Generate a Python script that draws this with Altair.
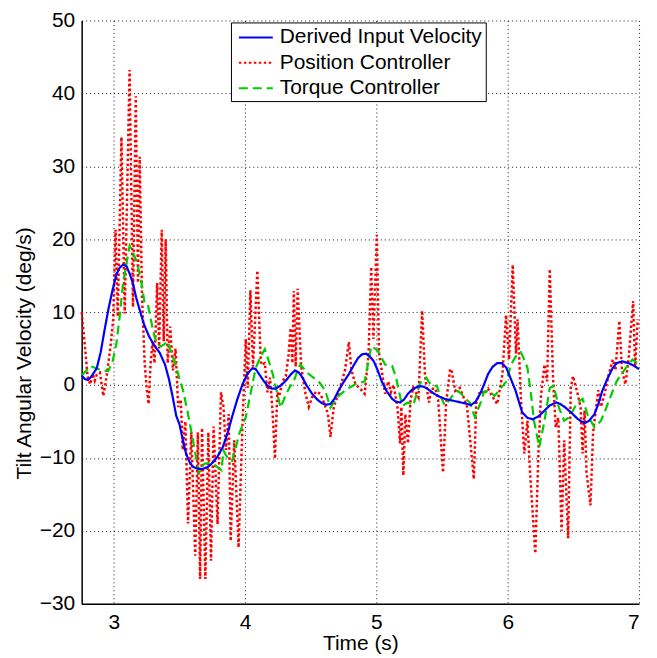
import altair as alt
import pandas as pd

# ---- data ----
blue_t = [2.755, 2.78, 2.805, 2.83, 2.87, 2.90, 2.93, 2.96, 2.99, 3.02, 3.045, 3.07, 3.096, 3.12, 3.146,
          3.17, 3.197, 3.23, 3.27, 3.31, 3.35, 3.39, 3.42, 3.45, 3.475, 3.50, 3.525, 3.55, 3.575, 3.60,
          3.64, 3.68, 3.72, 3.75, 3.79, 3.83, 3.87, 3.90, 3.94, 3.98, 4.02, 4.055, 4.08, 4.106, 4.14,
          4.17, 4.20, 4.23, 4.27, 4.31, 4.35, 4.38, 4.41, 4.43, 4.47, 4.51, 4.55, 4.585, 4.62, 4.65,
          4.68, 4.71, 4.75, 4.79, 4.83, 4.86, 4.89, 4.92, 4.95, 4.98, 5.01, 5.04, 5.08, 5.12, 5.15,
          5.18, 5.21, 5.24, 5.28, 5.32, 5.35, 5.38, 5.41, 5.44, 5.48, 5.52, 5.57, 5.62, 5.67, 5.72,
          5.755, 5.79, 5.82, 5.85, 5.885, 5.92, 5.955, 5.99, 6.02, 6.06, 6.085, 6.11, 6.15, 6.19, 6.235,
          6.28, 6.32, 6.37, 6.40, 6.44, 6.49, 6.53, 6.56, 6.59, 6.62, 6.66, 6.69, 6.72, 6.76, 6.80,
          6.83, 6.87, 6.92, 6.955, 6.985, 7.0]
blue_v = [1.3, 0.8, 0.7, 1.2, 2.3, 4.5, 7.6, 10.5, 13.0, 15.2, 16.1, 16.5, 16.3, 15.3, 13.9,
          12.0, 10.3, 8.3, 6.6, 5.4, 4.4, 2.8, 0.8, -1.8, -4.2, -5.4, -7.5, -9.4, -10.5, -11.2,
          -11.5, -11.5, -11.2, -10.7, -9.8, -8.5, -6.4, -4.4, -2.0, 0.1, 1.6, 2.3, 2.2, 1.5, 0.6,
          -0.1, -0.5, -0.5, -0.1, 0.6, 1.5, 2.0, 1.7, 1.2, -0.1, -1.2, -2.0, -2.5, -2.7, -2.6,
          -1.9, -0.8, 0.4, 1.5, 2.8, 3.7, 4.2, 4.3, 3.9, 3.25, 2.0, 0.5, -0.9, -1.9, -2.3,
          -2.4, -2.0, -1.2, -0.5, -0.2, -0.2, -0.4, -0.8, -1.2, -1.6, -1.9, -2.1, -2.3, -2.5, -2.75,
          -2.3, -1.2, 0.1, 1.5, 2.5, 3.0, 3.0, 2.35, 1.0, -0.8, -2.3, -3.75, -4.5, -4.7, -4.3,
          -3.5, -2.8, -2.4, -2.6, -3.1, -3.9, -4.6, -5.0, -5.2, -4.9, -4.0, -2.6, -0.8, 0.9, 2.35,
          3.0, 3.25, 3.0, 2.7, 2.35, 2.2]

red_t = [2.755, 2.78, 2.80, 2.82, 2.84, 2.855, 2.87, 2.894, 2.92, 2.945, 2.975, 2.995, 3.013, 3.03,
         3.058, 3.083, 3.12, 3.146, 3.167, 3.184, 3.197, 3.215, 3.235, 3.25, 3.265, 3.28, 3.295, 3.31,
         3.33, 3.345, 3.365, 3.38, 3.395, 3.41, 3.43, 3.45, 3.47, 3.49, 3.51, 3.525, 3.545, 3.565,
         3.59, 3.62, 3.64, 3.657, 3.672, 3.697, 3.72, 3.74, 3.76, 3.79, 3.816, 3.835, 3.854, 3.875,
         3.89, 3.917, 3.95, 3.98, 4.005, 4.02, 4.04, 4.06, 4.093, 4.12, 4.15, 4.17, 4.19, 4.21,
         4.227, 4.245, 4.26, 4.285, 4.31, 4.33, 4.346, 4.36, 4.371, 4.385, 4.40, 4.427, 4.46, 4.485,
         4.51, 4.54, 4.573, 4.60, 4.63, 4.65, 4.675, 4.71, 4.76, 4.79, 4.81, 4.84, 4.876, 4.91,
         4.94, 4.96, 4.977, 5.003, 5.02, 5.04, 5.066, 5.09, 5.11, 5.13, 5.16, 5.18, 5.19, 5.205,
         5.22, 5.24, 5.26, 5.28, 5.32, 5.348, 5.37, 5.40, 5.42, 5.45, 5.47, 5.507, 5.53, 5.56,
         5.57, 5.60, 5.635, 5.66, 5.69, 5.742, 5.76, 5.79, 5.82, 5.85, 5.89, 5.92, 5.96, 5.987,
         6.01, 6.038, 6.063, 6.075, 6.10, 6.126, 6.15, 6.17, 6.21, 6.235, 6.252, 6.28, 6.30, 6.32,
         6.345, 6.365, 6.385, 6.41, 6.43, 6.46, 6.48, 6.497, 6.53, 6.555, 6.57, 6.585, 6.60, 6.63,
         6.65, 6.67, 6.69, 6.71, 6.74, 6.77, 6.80, 6.82, 6.85, 6.87, 6.896, 6.92, 6.955, 6.97, 6.99]
red_v = [10.0, 5.3, 1.2, 0.1, 1.5, 0.6, 1.4, 1.7, -1.5, 1.2, 5.3, 9.0, 21.3, 9.4,
         34.0, 9.8, 43.2, 10.7, 39.6, 14.0, 31.3, 12.0, 3.0, -0.4, -2.6, 3.0, 6.0, 3.0,
         14.0, 5.0, 21.3, 6.0, 20.0, 3.0, 8.0, 2.0, 5.0, -3.0, -2.0, -8.9, -5.0, -19.0,
         -6.5, -23.4, -6.5, -26.6, -5.9, -26.6, -6.5, -24.1, -5.7, -19.1, -1.0, -3.0, -8.9, -4.0,
         -21.4, -7.6, -22.3, -5.3, 6.3, -0.4, 13.0, 2.5, 15.7, 2.8, 3.0, -1.0, 1.0, -4.0,
         -10.1, -1.0, -1.5, 0.5, 1.2, 4.0, 7.8, 3.0, 12.9, 2.5, 13.2, 2.5, -1.2, -3.0,
         -1.7, -0.9, -1.2, -2.4, -3.9, -7.1, -3.0, -1.2, 2.0, 5.9, 2.0, 0.1, -0.5, -1.2,
         4.2, 16.2, 6.3, 20.6, 4.3, 2.0, -1.2, 0.5, -1.0, 0.0, -3.0, -8.0, -3.0, -12.4,
         -4.0, -8.0, -2.0, -0.4, -1.7, 10.2, 1.2, -2.4, -0.5, -0.5, -2.0, -12.0, -2.6, 2.0,
         2.2, -0.8, -0.4, -1.5, -3.0, -12.9, -2.5, -0.8, -1.2, -0.5, -1.8, -2.6, 1.5, 9.6,
         3.5, 16.5, 4.3, 9.0, -1.7, -9.4, -4.9, -12.0, -23.1, -8.5, -1.7, 2.8, 0.5, 15.9,
         1.0, -5.8, -4.5, -20.0, -7.6, -21.0, -0.4, 1.2, -1.0, -3.1, -9.4, -3.5, -12.0, -16.5,
         -6.5, -3.5, -0.7, -3.0, -1.0, 1.5, 3.5, 2.0, 8.8, 2.0, 0.1, 3.5, 11.5, 2.5, 9.0]

green_t = [2.755, 2.79, 2.82, 2.85, 2.88, 2.92, 2.957, 2.99, 3.02, 3.045, 3.07, 3.095, 3.12, 3.15,
           3.18, 3.21, 3.235, 3.26, 3.285, 3.31, 3.335, 3.36, 3.385, 3.41, 3.44, 3.475, 3.50, 3.525,
           3.56, 3.60, 3.625, 3.65, 3.67, 3.69, 3.72, 3.75, 3.785, 3.82, 3.835, 3.86, 3.88, 3.90,
           3.93, 3.955, 3.98, 4.005, 4.04, 4.08, 4.115, 4.15, 4.18, 4.21, 4.24, 4.27, 4.29, 4.31,
           4.34, 4.37, 4.395, 4.42, 4.45, 4.485, 4.52, 4.56, 4.585, 4.61, 4.65, 4.675, 4.70, 4.73,
           4.76, 4.80, 4.84, 4.875, 4.91, 4.94, 4.96, 4.99, 5.015, 5.04, 5.066, 5.09, 5.12, 5.15,
           5.19, 5.20, 5.24, 5.28, 5.305, 5.33, 5.355, 5.38, 5.40, 5.42, 5.46, 5.48, 5.52, 5.545,
           5.57, 5.595, 5.62, 5.645, 5.67, 5.71, 5.75, 5.77, 5.79, 5.82, 5.86, 5.90, 5.94, 5.99,
           6.025, 6.06, 6.10, 6.125, 6.15, 6.175, 6.20, 6.24, 6.28, 6.32, 6.35, 6.39, 6.43, 6.47,
           6.50, 6.53, 6.57, 6.61, 6.66, 6.71, 6.74, 6.77, 6.80, 6.83, 6.865, 6.90, 6.95, 6.985, 7.0]
green_v = [1.3, 2.0, 2.6, 2.4, 2.2, 2.0, 1.9, 3.2, 5.7, 9.5, 13.9, 16.5, 19.1, 18.0,
           16.6, 14.0, 11.2, 11.0, 8.7, 6.6, 5.5, 5.3, 5.6, 6.0, 4.3, 2.6, 0.8, -0.6,
           -3.5, -7.3, -9.8, -12.0, -11.2, -10.8, -10.7, -10.8, -11.2, -11.7, -9.0, -9.8, -10.3, -10.4,
           -8.5, -6.7, -5.5, -4.4, -1.3, 2.3, 3.8, 4.9, 3.3, 1.5, -0.8, -3.1, -2.2, -1.3,
           -0.3, 0.5, 1.8, 2.8, 2.2, 1.5, 1.0, 0.5, -0.1, -0.8, -3.1, -2.4, -1.7, -1.2,
           -0.8, -0.3, 0.1, 0.3, 0.5, 3.25, 5.3, 5.0, 4.6, 3.7, 2.8, 2.7, 2.6, 1.0,
           -2.4, -2.8, -2.4, -2.8, -1.3, 0.1, 0.8, 1.0, 0.4, -0.1, -0.1, -1.2, -2.8, -2.3,
           -1.7, -1.1, -0.8, -1.2, -1.7, -2.4, -4.4, -3.5, -2.6, -0.9, -0.8, -1.5, -0.6, 0.5,
           2.8, 3.9, 4.5, 3.5, 2.35, -1.0, -4.9, -8.5, -4.9, -0.4, -0.1, -3.1, -4.9, -4.4,
           -3.4, -2.4, -1.9, -4.2, -5.8, -4.9, -3.6, -2.2, -0.8, 0.5, 1.5, 2.35, 3.5, 3.0, 2.8]

series_names = ["Derived Input Velocity", "Position Controller", "Torque Controller"]
series_colors = ["#0000FF", "#FF0000", "#00CC00"]
series_dashes = [[1, 0], [2.5, 2.5], [9, 5]]
x_ticks = [3, 4, 5, 6, 7]
y_ticks = [-30, -20, -10, 0, 10, 20, 30, 40, 50]

frames = []
for name, ts, vs in [(series_names[0], blue_t, blue_v),
                     (series_names[1], red_t, red_v),
                     (series_names[2], green_t, green_v)]:
    frames.append(pd.DataFrame({"t": ts, "v": vs, "series": name, "idx": range(len(ts))}))
df = pd.concat(frames, ignore_index=True)

FONT = "Liberation Sans"
FS = 21

x_enc = alt.X("t:Q", scale=alt.Scale(domain=[2.755, 7], nice=False, zero=False),
              axis=alt.Axis(values=x_ticks, title="Time (s)", format="d",
                            labelPadding=8, titlePadding=0))
y_enc = alt.Y("v:Q", scale=alt.Scale(domain=[-30, 50], nice=False, zero=False),
              axis=alt.Axis(values=y_ticks, title="Tilt Angular Velocity (deg/s)", format="d",
                            labelPadding=7, titleX=-47, titleY=334))

color_enc = alt.Color("series:N",
                      scale=alt.Scale(domain=series_names, range=series_colors),
                      legend=alt.Legend(orient="none", legendX=150, legendY=2, title=None,
                                        symbolType="M-1.55,0H1.55", symbolSize=484,
                                        symbolStrokeWidth=2, symbolOffset=10,
                                        strokeColor="black", fillColor="white", padding=3,
                                        labelFontSize=FS, labelFont=FONT, labelColor="black",
                                        rowPadding=3.5, labelOffset=12, labelLimit=400))
dash_enc = alt.StrokeDash("series:N",
                          scale=alt.Scale(domain=series_names, range=series_dashes),
                          legend=None)


def layer(name, width):
    return alt.Chart(df).transform_filter(alt.datum.series == name).mark_line(
        strokeWidth=width, strokeCap="butt", interpolate="linear"
    ).encode(x=x_enc, y=y_enc, color=color_enc, strokeDash=dash_enc, order="idx:Q")


chart = alt.layer(
    layer(series_names[1], 2.5),
    layer(series_names[2], 2.2),
    layer(series_names[0], 2.2),
).properties(
    width=560, height=586,
    autosize=alt.AutoSizeParams(type="none"),
    padding={"left": 74, "top": 11, "right": 10, "bottom": 52},
).configure_view(stroke=None).configure_axis(
    labelFont=FONT, titleFont=FONT, labelFontSize=FS, titleFontSize=FS,
    labelColor="black", titleColor="black", titleFontWeight="normal",
    grid=True, gridColor="black", gridDash=[1, 3], gridWidth=1, gridOpacity=0.9,
    domainColor="black", domainWidth=1.5, tickSize=0,
).resolve_scale(color="shared", strokeDash="shared")

chart.save("out.html", embed_options={"renderer": "svg", "actions": False})
